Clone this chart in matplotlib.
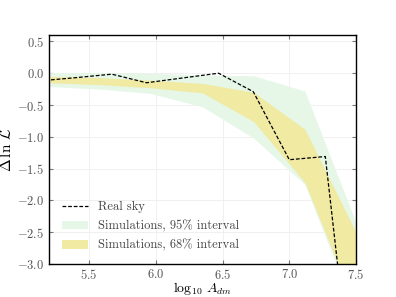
import numpy as np
import matplotlib
matplotlib.use("Agg")
import matplotlib.pyplot as plt

plt.rcParams["font.family"] = ["cmr10", "DejaVu Serif"]
plt.rcParams["mathtext.fontset"] = "cm"
plt.rcParams["axes.formatter.use_mathtext"] = True
plt.rcParams["axes.unicode_minus"] = True

# Real sky curve
x_sky = [5.13, 5.4, 5.67, 5.93, 6.2, 6.47, 6.73, 7.0, 7.27, 7.53]
y_sky = [-0.12, -0.07, -0.015, -0.15, -0.075, 0.0, -0.29, -1.36, -1.31, -6.1]

# Simulation bands
x_band = [5.2, 5.583, 5.967, 6.35, 6.733, 7.117, 7.5]
g_hi = [0.01, 0.01, 0.0, -0.03, -0.04, -0.28, -2.35]
g_lo = [-0.21, -0.25, -0.32, -0.53, -1.02, -1.75, -3.8]
y_hi = [-0.05, -0.07, -0.11, -0.16, -0.30, -0.88, -2.5]
y_lo = [-0.15, -0.18, -0.23, -0.31, -0.76, -1.72, -3.7]

fig = plt.figure(figsize=(3.96, 2.97), dpi=100)
ax = fig.add_axes([0.124, 0.111, 0.775, 0.771])

ax.fill_between(x_band, g_lo, g_hi, color="#e6f7e8", lw=0,
                label="Simulations, 95% interval")
ax.fill_between(x_band, y_lo, y_hi, color="#f0eaa2", lw=0,
                label="Simulations, 68% interval")
ax.plot(x_sky, y_sky, "k--", lw=0.9, dashes=(3, 1.5), label="Real sky")

ax.set_xlim(5.2, 7.5)
ax.set_ylim(-3.0, 0.6)
ax.set_xticks([5.5, 6.0, 6.5, 7.0, 7.5])
ax.set_yticks([0.5, 0.0, -0.5, -1.0, -1.5, -2.0, -2.5, -3.0])
ax.grid(True, color="#eeeeee", lw=0.6)
ax.set_axisbelow(True)
ax.tick_params(direction="in", top=True, right=True, labelsize=9,
               colors="#777777", labelcolor="#555555", length=3)
ax.tick_params(axis="x", pad=2.5)
for s in ax.spines.values():
    s.set_color("black")
    s.set_linewidth(1.0)

ax.set_xlabel(r"$\log_{10}\,A_{dm}$", fontsize=10)
ax.set_ylabel(r"$\Delta\,\ln\,\mathcal{L}$", fontsize=11)
ax.xaxis.set_label_coords(0.5, -0.071)
ax.yaxis.set_label_coords(-0.115, 0.5)

h, l = ax.get_legend_handles_labels()
ax.legend([h[2], h[0], h[1]], [l[2], l[0], l[1]], loc="lower left",
          frameon=False, fontsize=9, handlelength=2.1, handletextpad=0.8,
          labelspacing=0.55, borderaxespad=0.6, labelcolor="#444444")

fig.savefig("out.png", dpi=100)
